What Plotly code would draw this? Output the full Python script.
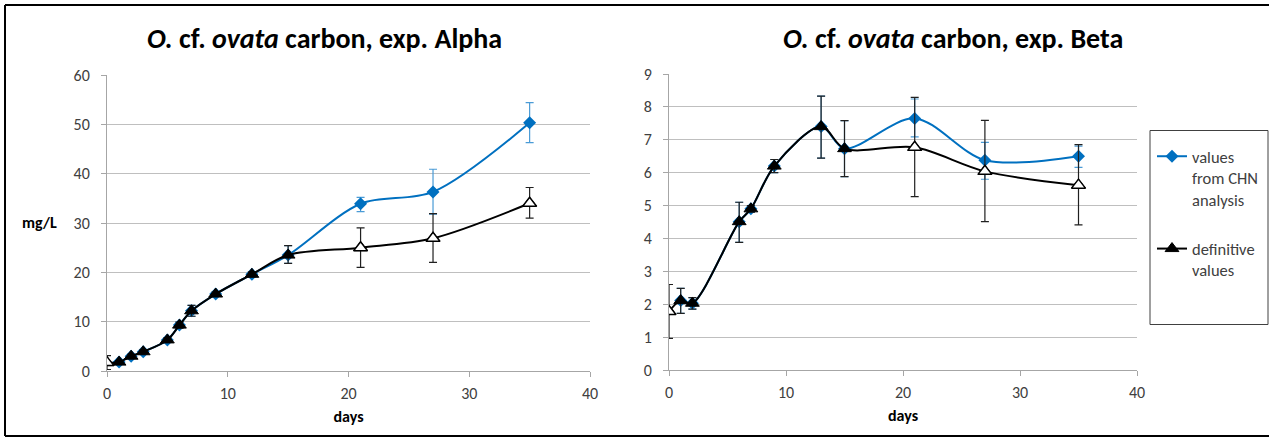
import plotly.graph_objects as go

W, H = 1269, 438
FONT = "Carlito, Lato, 'Open Sans', sans-serif"

# ---- Data: exp. Alpha ----
days_a = [0, 1, 2, 3, 5, 6, 7, 9, 12, 15, 21, 27, 35]
def_a = [1.7, 1.8, 3.0, 3.9, 6.3, 9.3, 12.2, 15.6, 19.6, 23.5, 25.0, 26.9, 34.0]
def_a_ep = [1.4, 0.3, 0.4, 0.4, 0.4, 0.6, 1.1, 0.4, 0.5, 1.9, 4.0, 5.0, 3.2]
def_a_em = [1.4, 0.3, 0.4, 0.4, 0.4, 0.6, 1.1, 0.4, 0.5, 1.7, 4.0, 4.9, 3.0]
def_a_open = [True, False, False, False, False, False, False, False, False, False, True, True, True]

chn_days_a = [1, 2, 3, 5, 6, 7, 9, 12, 15, 21, 27, 35]
chn_a = [1.8, 3.0, 3.9, 6.3, 9.3, 12.2, 15.6, 19.6, 23.5, 33.9, 36.3, 50.3]
chn_a_ep = [0.3, 0.4, 0.4, 0.4, 0.6, 1.1, 0.4, 0.5, 1.9, 1.3, 4.6, 4.1]
chn_a_em = [0.3, 0.4, 0.4, 0.4, 0.6, 1.1, 0.4, 0.5, 1.7, 1.6, 4.5, 4.0]

# ---- Data: exp. Beta ----
days_b = [0, 1, 2, 6, 7, 9, 13, 15, 21, 27, 35]
def_b = [1.78, 2.11, 2.03, 4.51, 4.9, 6.2, 7.4, 6.73, 6.77, 6.04, 5.62]
def_b_ep = [0.82, 0.37, 0.17, 0.59, 0.1, 0.2, 0.93, 0.85, 1.52, 1.55, 1.23]
def_b_em = [0.82, 0.39, 0.18, 0.63, 0.1, 0.2, 0.96, 0.85, 1.50, 1.53, 1.21]
def_b_open = [True, False, False, False, False, False, False, False, True, True, True]

chn_days_b = [1, 2, 6, 7, 9, 13, 15, 21, 27, 35]
chn_b = [2.11, 2.03, 4.51, 4.9, 6.2, 7.4, 6.73, 7.65, 6.38, 6.5]
chn_b_ep = [0.37, 0.17, 0.59, 0.1, 0.2, 0.93, 0.85, 0.59, 0.54, 0.31]
chn_b_em = [0.39, 0.18, 0.63, 0.1, 0.2, 0.96, 0.85, 0.56, 0.58, 0.34]

x_ticks = [0, 10, 20, 30, 40]
y_ticks_a = [0, 10, 20, 30, 40, 50, 60]
y_ticks_b = [0, 1, 2, 3, 4, 5, 6, 7, 8, 9]
titles = ["<b><i>O.</i> cf. <i>ovata</i> carbon, exp. Alpha</b>",
          "<b><i>O.</i> cf. <i>ovata</i> carbon, exp. Beta</b>"]
legend_names = ["values<br>from CHN<br>analysis", "definitive<br>values"]

BLUE = "#0070C0"
BLUE_ERR = "#4A9BD6"
BLACK = "#000000"


def px_x(p):
    return p / W


def px_y(p):
    return 1 - p / H


fig = go.Figure()


def add_pair(xa, ya, show, cd, cv, cep, cem, dd, dv, dep, dem, dopen):
    fig.add_trace(go.Scatter(
        x=cd, y=cv, mode="lines+markers", name=legend_names[0],
        legendgroup="chn", showlegend=show,
        line=dict(color=BLUE, width=2, shape="spline", smoothing=0.9),
        marker=dict(symbol="diamond", size=10, color=BLUE),
        error_y=dict(type="data", array=cep, arrayminus=cem, color=BLUE_ERR,
                     thickness=1.2, width=4),
        xaxis=xa, yaxis=ya))
    fig.add_trace(go.Scatter(
        x=dd, y=dv, mode="lines+markers", name=legend_names[1],
        legendgroup="def", showlegend=show,
        line=dict(color=BLACK, width=2, shape="spline", smoothing=0.9),
        marker=dict(symbol="triangle-up", size=12, color=BLACK,
                    line=dict(color=BLACK, width=1)),
        error_y=dict(type="data", array=dep, arrayminus=dem, color="#202020",
                     thickness=1.2, width=4),
        xaxis=xa, yaxis=ya))
    ox = [d for d, o in zip(dd, dopen) if o]
    oy = [v for v, o in zip(dv, dopen) if o]
    fig.add_trace(go.Scatter(
        x=ox, y=oy, mode="markers", showlegend=False, hoverinfo="skip",
        marker=dict(symbol="triangle-up", size=12, color="white",
                    line=dict(color=BLACK, width=1.5)),
        xaxis=xa, yaxis=ya))


add_pair("x", "y", False, chn_days_a, chn_a, chn_a_ep, chn_a_em,
         days_a, def_a, def_a_ep, def_a_em, def_a_open)
add_pair("x2", "y2", True, chn_days_b, chn_b, chn_b_ep, chn_b_em,
         days_b, def_b, def_b_ep, def_b_em, def_b_open)

GRID = "#BFBFBF"
AX = "#A6A6A6"
TICKF = dict(family=FONT, size=16, color="#404040")
TITLEF = dict(family=FONT, size=16, color="#000000")

common_x = dict(range=[0, 40], tickvals=x_ticks, showgrid=False, showline=True,
                linecolor=AX, linewidth=1, ticks="outside", ticklen=5, tickcolor=AX,
                tickfont=TICKF, zeroline=False, fixedrange=True, automargin=False,
                ticklabelstandoff=3)
common_y = dict(showgrid=True, gridcolor=GRID, gridwidth=1, showline=True,
                linecolor=AX, linewidth=1, ticks="outside", ticklen=5, tickcolor=AX,
                tickfont=TICKF, zeroline=False, fixedrange=True, automargin=False,
                ticklabelstandoff=8)

fig.update_layout(
    width=W, height=H, autosize=False,
    margin=dict(l=0, r=0, t=0, b=0, pad=0, autoexpand=False),
    paper_bgcolor="white", plot_bgcolor="white",
    font=dict(family=FONT, color="#000000"),
    xaxis=dict(domain=[px_x(107), px_x(590)], anchor="y",
               title=dict(text="<b>days</b>", font=TITLEF, standoff=8), **common_x),
    yaxis=dict(domain=[px_y(371), px_y(75)], anchor="x", range=[0, 60],
               tickvals=y_ticks_a, **common_y),
    xaxis2=dict(domain=[px_x(669), px_x(1137)], anchor="y2",
                title=dict(text="<b>days</b>", font=TITLEF, standoff=8), **common_x),
    yaxis2=dict(domain=[px_y(370), px_y(74)], anchor="x2", range=[0, 9],
                tickvals=y_ticks_b, **common_y),
    legend=dict(x=px_x(1152), y=px_y(139), xanchor="left", yanchor="top",
                bgcolor="rgba(0,0,0,0)", borderwidth=0,
                font=dict(family=FONT, size=16.5, color="#404040"),
                valign="top", tracegroupgap=25, itemwidth=30),
    shapes=[
        dict(type="line", xref="paper", yref="paper", x0=px_x(5), x1=1,
             y0=px_y(5), y1=px_y(5), line=dict(color="black", width=2)),
        dict(type="line", xref="paper", yref="paper", x0=px_x(5), x1=1,
             y0=px_y(436), y1=px_y(436), line=dict(color="black", width=2)),
        dict(type="line", xref="paper", yref="paper", x0=px_x(5), x1=px_x(5),
             y0=px_y(436), y1=px_y(5), line=dict(color="black", width=2)),
        dict(type="rect", xref="paper", yref="paper", x0=px_x(1150), x1=px_x(1268),
             y0=px_y(324.5), y1=px_y(130.5), line=dict(color="#404040", width=1)),
    ],
    annotations=[
        dict(text=titles[0], x=px_x(324), y=px_y(38), xref="paper", yref="paper",
             showarrow=False, xanchor="center", yanchor="middle",
             font=dict(family=FONT, size=28, color="black")),
        dict(text=titles[1], x=px_x(953), y=px_y(38), xref="paper", yref="paper",
             showarrow=False, xanchor="center", yanchor="middle",
             font=dict(family=FONT, size=28, color="black")),
        dict(text="<b>mg/L</b>", x=px_x(40), y=px_y(222), xref="paper", yref="paper",
             showarrow=False, xanchor="center", yanchor="middle", font=TITLEF),
    ],
)

fig.write_html("out.html")
